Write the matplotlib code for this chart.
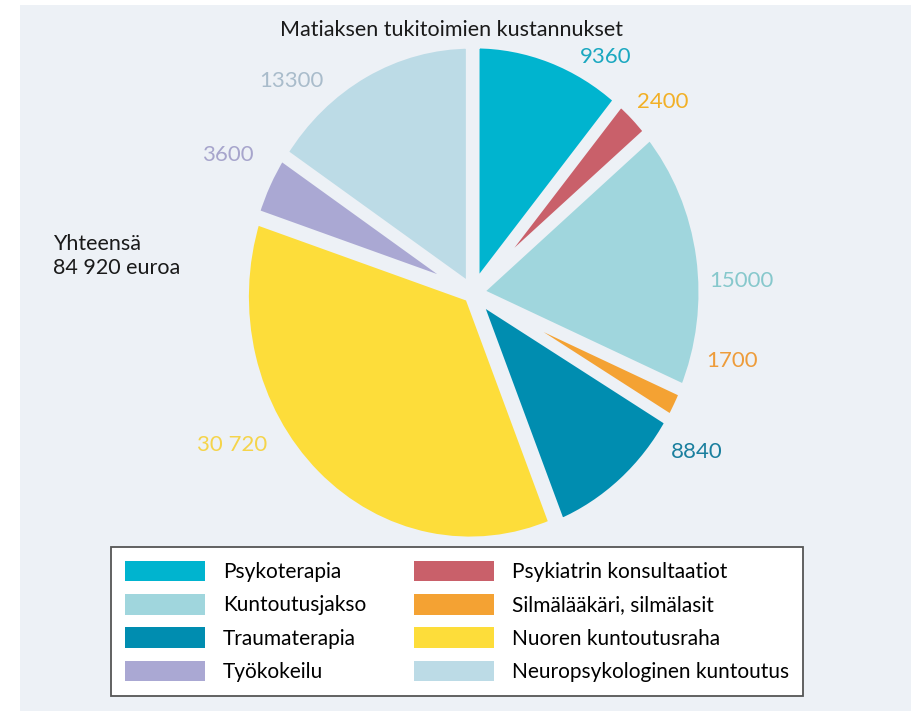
import matplotlib
matplotlib.use("Agg")
import matplotlib.pyplot as plt
from matplotlib.patches import Rectangle, Patch

plt.rcParams['font.family'] = ['Lato', 'DejaVu Sans']

# data, clockwise from 12 o'clock
categories = ['Psykoterapia', 'Psykiatrin konsultaatiot', 'Kuntoutusjakso',
              'Silmälääkäri, silmälasit', 'Traumaterapia', 'Nuoren kuntoutusraha',
              'Työkokeilu', 'Neuropsykologinen kuntoutus']
costs = [9360, 2400, 15000, 1700, 8840, 30720, 3600, 13300]
value_labels = ['9360', '2400', '15000', '1700', '8840', '30 720', '3600', '13300']
total_text = 'Yhteensä\n84 920 euroa'
title = 'Matiaksen tukitoimien kustannukset'

colors = ['#00b4cf', '#c9606a', '#a0d6dd', '#f4a233',
          '#008db0', '#fddd3a', '#aaa8d3', '#bcdbe6']
label_colors = ['#1aa8c0', '#f2b026', '#86c8cc', '#ee9c3a',
                '#1a7f9e', '#f5d44a', '#a7a5cc', '#a9bccb']
# label centres in pixels
label_pos = [(606, 57), (663, 102), (741, 281), (732, 361),
             (697, 452), (232, 445), (228, 155), (291, 81)]

W, H = 912, 711
bg = '#edf1f6'
fig = plt.figure(figsize=(W / 100, H / 100), dpi=100, facecolor='white')
fig.patches.append(Rectangle((20 / W, 0), 1, 1 - 5 / H, transform=fig.transFigure,
                             facecolor=bg, edgecolor='none', zorder=-10))

def px(x, y):
    return x / W, 1 - y / H

# pie geometry in pixels (slightly taller than wide, like the original)
cx, cy = 473, 293
rx, ry = 226, 245

ax = fig.add_axes([0, 0, 1, 1])
ax.pie(costs, colors=colors, startangle=90, counterclock=False,
       explode=[0.02] * len(costs),
       wedgeprops=dict(edgecolor=bg, linewidth=7.2))
ax.set_aspect('auto')
ax.set_xlim(-cx / rx, (W - cx) / rx)
ax.set_ylim(-(H - cy) / ry, cy / ry)
ax.set_frame_on(False)

for (x, y), t, c in zip(label_pos, value_labels, label_colors):
    fig.text(*px(x, y), t, color=c, fontsize=16, ha='center', va='center')

fig.text(*px(452, 30), title, fontsize=15.5, color='#1a1a1a', ha='center', va='center')
fig.text(*px(53, 256), total_text, fontsize=15.5, color='#1a1a1a', ha='left',
         va='center', linespacing=1.25)

# legend, filled column by column
order = [0, 2, 4, 6, 1, 3, 5, 7]
handles = [Patch(facecolor=colors[i], edgecolor='none') for i in order]
labels = [categories[i] for i in order]
leg = fig.legend(handles, labels, ncol=2, loc='upper left',
                 bbox_to_anchor=px(111, 547), borderaxespad=0,
                 fontsize=15, frameon=True, fancybox=False,
                 handlelength=3.85, handleheight=1.15, handletextpad=0.85,
                 labelspacing=0.57, columnspacing=2.3, borderpad=0.66)
frame = leg.get_frame()
frame.set_facecolor('white')
frame.set_edgecolor('#555555')
frame.set_linewidth(1.3)
frame.set_alpha(1)

fig.savefig('out.png', dpi=100, facecolor='white')
